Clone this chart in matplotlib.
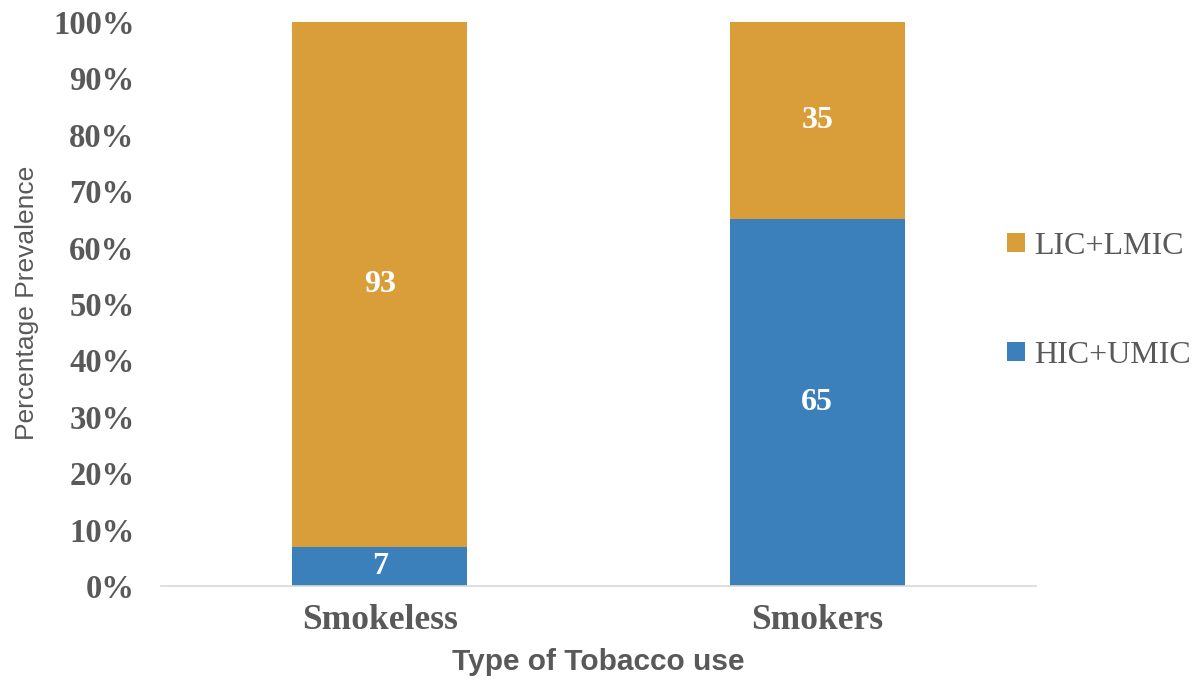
import matplotlib.pyplot as plt
import numpy as np

# data
categories = ['Smokeless', 'Smokers']
hic_umic = [7, 65]
lic_lmic = [93, 35]
yticks = [0, 10, 20, 30, 40, 50, 60, 70, 80, 90, 100]

c_blue = '#3B80BA'
c_orange = '#D99E39'
c_text = '#595959'

fig = plt.figure(figsize=(11.95, 6.81), dpi=100)
ax = fig.add_axes([0.1347, 0.1395, 0.7322, 0.8282])

x = np.arange(len(categories))
b1 = ax.bar(x, hic_umic, width=0.4, color=c_blue, label='HIC+UMIC')
b2 = ax.bar(x, lic_lmic, width=0.4, bottom=hic_umic, color=c_orange, label='LIC+LMIC')

# value labels centred in each segment
for i in range(len(categories)):
    ax.text(x[i], hic_umic[i] / 2, str(hic_umic[i]), ha='center', va='center',
            color='white', fontsize=23, fontweight='bold', family='Liberation Serif')
    ax.text(x[i], hic_umic[i] + lic_lmic[i] / 2, str(lic_lmic[i]), ha='center', va='center',
            color='white', fontsize=23, fontweight='bold', family='Liberation Serif')

ax.set_xlim(-0.5, 1.5)
ax.set_ylim(0, 100)
ax.set_yticks(yticks)
ax.set_yticklabels(['%d%%' % v for v in yticks])
ax.set_xticks(x)
ax.set_xticklabels(categories)

for lab in ax.get_yticklabels():
    lab.set_family('Liberation Serif')
    lab.set_fontweight('bold')
    lab.set_fontsize(23.5)
    lab.set_color(c_text)
for lab in ax.get_xticklabels():
    lab.set_family('Liberation Serif')
    lab.set_fontweight('bold')
    lab.set_fontsize(25.5)
    lab.set_color(c_text)

ax.tick_params(axis='y', length=0, pad=19)
ax.tick_params(axis='x', length=0, pad=13)

for s in ['top', 'right', 'left']:
    ax.spines[s].set_visible(False)
ax.spines['bottom'].set_color('#D9D9D9')
ax.spines['bottom'].set_linewidth(1.2)

ax.set_xlabel('Type of Tobacco use', family='Liberation Sans', fontweight='bold',
              fontsize=21.5, color=c_text, labelpad=8)
fig.text(0.023, 0.555, 'Percentage Prevalence', rotation=90, ha='center', va='center',
         family='Liberation Sans', fontsize=19, color=c_text)

leg = fig.legend([b2, b1], ['LIC+LMIC', 'HIC+UMIC'], loc='center left',
                 bbox_to_anchor=(0.819, 0.558), frameon=False,
                 prop={'family': 'Liberation Serif', 'size': 23},
                 handlelength=0.55, handleheight=0.55, handletextpad=0.3,
                 labelspacing=2.5)
for t in leg.get_texts():
    t.set_color(c_text)

fig.savefig('out.png', dpi=100)
